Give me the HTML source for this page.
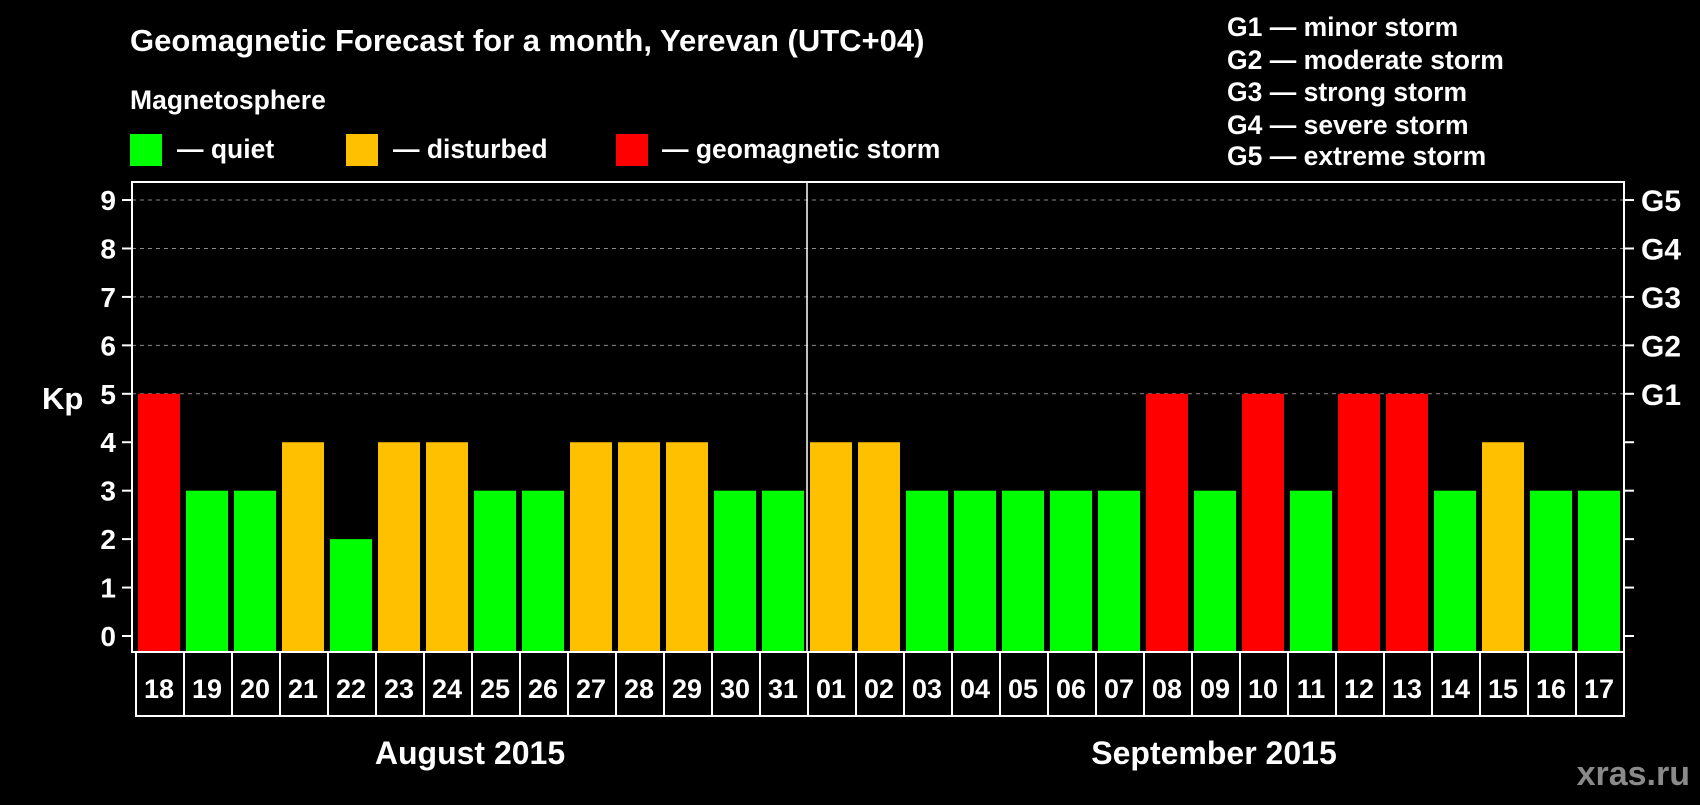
<!DOCTYPE html>
<html><head><meta charset="utf-8"><style>
body{margin:0;background:#000;width:1700px;height:800px;overflow:hidden;font-family:"Liberation Sans",sans-serif}
</style></head><body>
<svg width="1700" height="800" xmlns="http://www.w3.org/2000/svg" font-family="Liberation Sans, sans-serif" font-weight="bold" fill="#fff">
<text x="130" y="51" font-size="31">Geomagnetic Forecast for a month, Yerevan (UTC+04)</text>
<text x="130" y="109" font-size="26.5">Magnetosphere</text>
<rect x="130" y="134" width="32" height="32" fill="#00ff00"/>
<text x="177" y="158" font-size="26.5">— quiet</text>
<rect x="346" y="134" width="32" height="32" fill="#ffc000"/>
<text x="393" y="158" font-size="26.5">— disturbed</text>
<rect x="616" y="134" width="32" height="32" fill="#ff0000"/>
<text x="662" y="158" font-size="26.5">— geomagnetic storm</text>
<g font-size="26.5">
<text x="1227" y="36">G1 — minor storm</text>
<text x="1227" y="69">G2 — moderate storm</text>
<text x="1227" y="101">G3 — strong storm</text>
<text x="1227" y="134">G4 — severe storm</text>
<text x="1227" y="165">G5 — extreme storm</text>
</g>
<text x="42" y="409" font-size="31">Kp</text>
<g id="plot"></g>
<text x="470" y="764" font-size="32" text-anchor="middle">August 2015</text>
<text x="1214" y="764" font-size="32" text-anchor="middle">September 2015</text>
<text x="1690" y="785" font-size="34" text-anchor="end" fill="#8a8a8a">xras.ru</text>
</svg>
<script>
const days=["18","19","20","21","22","23","24","25","26","27","28","29","30","31","01","02","03","04","05","06","07","08","09","10","11","12","13","14","15","16","17"];
const kp=[5,3,3,4,2,4,4,3,3,4,4,4,3,3,4,4,3,3,3,3,3,5,3,5,3,5,5,3,4,3,3];
const yTicks=[0,1,2,3,4,5,6,7,8,9];
const gLabels={5:"G1",6:"G2",7:"G3",8:"G4",9:"G5"};
const NS="http://www.w3.org/2000/svg";
const g=document.getElementById('plot');
const L=132,R=1624,T=182,B=652;
const y=v=>636-v*48.44;
const x=i=>138+i*48;
function mk(t,a,p){const e=document.createElementNS(NS,t);for(const k in a)e.setAttribute(k,a[k]);(p||g).appendChild(e);return e;}
yTicks.forEach(v=>{
  if(v>=5){const l=mk('line',{x1:L,x2:R,y1:y(v),y2:y(v),stroke:'#888','stroke-width':1,'stroke-dasharray':'4,4'});
  
  }
  mk('line',{x1:L-10,x2:L,y1:y(v),y2:y(v),stroke:'#fff','stroke-width':2});
  mk('line',{x1:R,x2:R+10,y1:y(v),y2:y(v),stroke:'#fff','stroke-width':2});
  const t=mk('text',{x:116,y:y(v)+10,'font-size':28,'text-anchor':'end'});t.textContent=v;
  
  
  if(gLabels[v]){const t2=mk('text',{x:1641,y:y(v)+11,'font-size':30});t2.textContent=gLabels[v];
  
  }
});
kp.forEach((v,i)=>{
  const c=v>=5?'#ff0000':(v>=4?'#ffc000':'#00ff00');
  const r=mk('rect',{x:x(i),y:y(v),width:42,height:B-y(v),fill:c});
  
  
  mk('rect',{x:x(i)-2,y:B,width:48,height:64,fill:'none',stroke:'#fff','stroke-width':2});
  const t=mk('text',{x:x(i)+21,y:698,'font-size':27,'text-anchor':'middle'});t.textContent=days[i];
  
  
});
mk('line',{x1:807,x2:807,y1:T,y2:B,stroke:'#fff','stroke-width':1.5});
const f=mk('rect',{x:L,y:T,width:R-L,height:B-T,fill:'none',stroke:'#fff','stroke-width':2});


</script>
</body></html>
